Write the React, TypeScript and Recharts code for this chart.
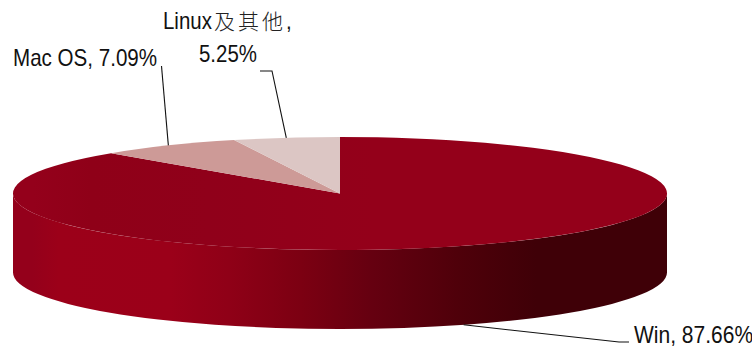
import React from 'react';
import { PieChart, Pie, Cell } from 'recharts';

// Desktop operating-system share, drawn as a tilted pie with a side wall.
const systems = ['Win', 'Mac OS', 'Linux及其他'];
const shares = [87.66, 7.09, 5.25];
const shareText = ['87.66%', '7.09%', '5.25%'];
const sliceColors = ['url(#pieTop)', '#cd9a97', '#dcc6c4'];

const tableData = systems.map((name, i) => ({ name, value: shares[i], text: shareText[i] }));

// Geometry of the tilted disc.
const WIDTH = 752;
const HEIGHT = 350;
const CX = 340;
const CY = 193.5;
const RX = 327;
const SQUASH = 56.5 / 327;
const DEPTH = 79;

const FONT = '"Liberation Sans", Arial, sans-serif';
const TEXT_STYLE = { fontFamily: FONT, fontSize: 23, fill: '#111' };

const rad = (deg: number) => (deg * Math.PI) / 180;

function rimPoint(cx: number, cy: number, r: number, deg: number) {
  return { x: cx + r * Math.cos(rad(deg)), y: cy - r * SQUASH * Math.sin(rad(deg)) };
}

// Side wall for whatever part of a slice faces the viewer.
function wallPath(cx: number, cy: number, r: number, start: number, end: number) {
  const from = Math.min(start, 0);
  const to = Math.max(end, -180);
  if (from <= to) return null;
  const a = rimPoint(cx, cy, r, from);
  const b = rimPoint(cx, cy, r, to);
  const ry = r * SQUASH;
  return (
    `M${a.x},${a.y} A${r},${ry} 0 0 1 ${b.x},${b.y} ` +
    `L${b.x},${b.y + DEPTH} A${r},${ry} 0 0 0 ${a.x},${a.y + DEPTH} Z`
  );
}

function EllipticSlice(props: any) {
  const { cx, cy, outerRadius: r, startAngle, endAngle, fill } = props;
  const a = rimPoint(cx, cy, r, startAngle);
  const b = rimPoint(cx, cy, r, endAngle);
  const large = Math.abs(startAngle - endAngle) > 180 ? 1 : 0;
  const top = `M${cx},${cy} L${a.x},${a.y} A${r},${r * SQUASH} 0 ${large} 1 ${b.x},${b.y} Z`;
  const wall = wallPath(cx, cy, r, startAngle, endAngle);
  return (
    <g>
      {wall && <path d={wall} fill="url(#pieWall)" />}
      <path d={top} fill={fill} />
    </g>
  );
}

// Where each callout's leader line bends and ends.
const calloutBends: Record<string, number[][]> = {
  Win: [[619, 342], [629, 342]],
  'Mac OS': [[161.5, 66]],
  'Linux及其他': [[272, 71], [260, 71]],
};

function Leader(props: any) {
  const { cx, cy, midAngle, outerRadius: r, payload, name } = props;
  const key = name ?? payload?.name;
  const p = rimPoint(cx, cy, r, midAngle);
  const startY = Math.sin(rad(midAngle)) < 0 ? p.y + DEPTH : p.y;
  const pts = [[p.x, startY], ...(calloutBends[key] ?? [])];
  return <polyline points={pts.map((q) => q.join(',')).join(' ')} fill="none" stroke="#111" strokeWidth={1.1} />;
}

// The label face is a condensed Arial, so the glyphs are narrowed horizontally.
function Condensed({ x, y, sx, children }: { x: number; y: number; sx: number; children: string }) {
  return (
    <text transform={`translate(${x},${y}) scale(${sx},1)`} style={TEXT_STYLE}>
      {children}
    </text>
  );
}

function Callout(props: any) {
  const { name, payload } = props;
  const key = name ?? payload?.name;
  const pct = (payload?.text ?? props.text) as string;
  if (key === 'Win') {
    return <Condensed x={634} y={343} sx={0.914}>{`${key}, ${pct}`}</Condensed>;
  }
  if (key === 'Mac OS') {
    return <Condensed x={13} y={66} sx={0.895}>{`${key}, ${pct}`}</Condensed>;
  }
  return (
    <g>
      <Condensed x={163} y={29} sx={0.889}>Linux</Condensed>
      <text
        x={214}
        y={29}
        style={{ fontFamily: '"Noto Sans CJK SC"', fontWeight: 300, letterSpacing: 3, fontSize: 21, fill: '#222' }}
      >
        {key.replace('Linux', '')}
      </text>
      <Condensed x={286} y={29} sx={0.889}>,</Condensed>
      <Condensed x={199} y={62} sx={0.889}>{pct}</Condensed>
    </g>
  );
}

export default function App() {
  return (
    <div style={{ width: WIDTH, height: HEIGHT, background: '#fff' }}>
      <style>{'body{margin:0}'}</style>
      <PieChart width={WIDTH} height={HEIGHT} margin={{ top: 0, right: 0, bottom: 0, left: 0 }}>
        <defs>
          <linearGradient id="pieTop" gradientUnits="userSpaceOnUse" x1={13} y1={0} x2={667} y2={0}>
            <stop offset="0" stopColor="#94001b" />
            <stop offset="0.03" stopColor="#94001b" />
            <stop offset="0.12" stopColor="#8f0018" />
            <stop offset="0.3" stopColor="#90001a" />
            <stop offset="0.55" stopColor="#94001a" />
            <stop offset="1" stopColor="#94001a" />
          </linearGradient>
          <linearGradient id="pieWall" gradientUnits="userSpaceOnUse" x1={13} y1={0} x2={667} y2={0}>
            <stop offset="0" stopColor="#94001b" />
            <stop offset="0.03" stopColor="#94001b" />
            <stop offset="0.07" stopColor="#9c0019" />
            <stop offset="0.24" stopColor="#9b0019" />
            <stop offset="0.33" stopColor="#8f0017" />
            <stop offset="0.44" stopColor="#7c0012" />
            <stop offset="0.55" stopColor="#650010" />
            <stop offset="0.68" stopColor="#4f000a" />
            <stop offset="0.8" stopColor="#3f0007" />
            <stop offset="1" stopColor="#3f0007" />
          </linearGradient>
        </defs>
        <Pie
          data={tableData}
          dataKey="value"
          nameKey="name"
          cx={CX}
          cy={CY}
          innerRadius={0}
          outerRadius={RX}
          startAngle={90}
          endAngle={-270}
          paddingAngle={0}
          stroke="none"
          isAnimationActive={false}
          shape={EllipticSlice}
          label={Callout}
          labelLine={Leader}
        >
          {tableData.map((d, i) => (
            <Cell key={d.name} fill={sliceColors[i]} />
          ))}
        </Pie>
      </PieChart>
    </div>
  );
}
